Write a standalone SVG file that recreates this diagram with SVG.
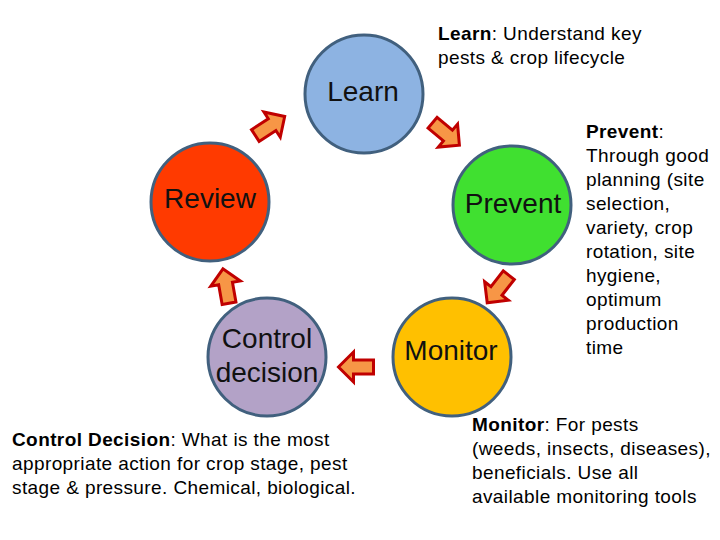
<svg xmlns="http://www.w3.org/2000/svg" width="720" height="540" viewBox="0 0 720 540">
<defs>
<style>
.c{stroke:#41607e;stroke-width:3}
.lbl{font-family:"Liberation Sans",Arial,sans-serif;font-size:28px;fill:#111;text-anchor:middle}
.txt{font-family:"Liberation Sans",Arial,sans-serif;font-size:19px;letter-spacing:0.4px;fill:#000}
.b{font-weight:bold}
.arr{fill:#f79646;stroke:#c00000;stroke-width:3;stroke-linejoin:miter}
</style>
<path id="ar" d="M -17.5,-7 L 2.5,-7 L 2.5,-15 L 17.5,0 L 2.5,15 L 2.5,7 L -17.5,7 Z"/>
</defs>
<rect width="720" height="540" fill="#fff"/>
<g id="learn">
<circle class="c" cx="364" cy="94" r="59" fill="#8db3e2"/>
<text class="lbl" x="363" y="101">Learn</text>
</g>
<g id="prevent">
<circle class="c" cx="512" cy="205" r="59" fill="#40e030"/>
<text class="lbl" x="513" y="213">Prevent</text>
</g>
<g id="monitor">
<circle class="c" cx="452" cy="357" r="59" fill="#ffc000"/>
<text class="lbl" x="451" y="360">Monitor</text>
</g>
<g id="control">
<circle class="c" cx="267" cy="357" r="59" fill="#b3a2c7"/>
<text class="lbl" x="267" y="348">Control</text>
<text class="lbl" x="267" y="382">decision</text>
</g>
<g id="review">
<circle class="c" cx="210" cy="202" r="59" fill="#ff3a00"/>
<text class="lbl" x="210" y="208">Review</text>
</g>
<g id="connectors">
<use href="#ar" class="arr" transform="translate(446,134) rotate(40)"/>
<use href="#ar" class="arr" transform="translate(498,289) rotate(128)"/>
<use href="#ar" class="arr" transform="translate(356,367) rotate(180)"/>
<use href="#ar" class="arr" transform="translate(226,286) rotate(-100)"/>
<use href="#ar" class="arr" transform="translate(270,126) rotate(-33)"/>
</g>
<g id="notes">
<text class="txt" x="438" y="40"><tspan class="b">Learn</tspan>: Understand key</text>
<text class="txt" x="438" y="64">pests &amp; crop lifecycle</text>
<text class="txt" x="586" y="138"><tspan class="b">Prevent</tspan>:</text>
<text class="txt" x="586" y="162">Through good</text>
<text class="txt" x="586" y="186">planning (site</text>
<text class="txt" x="586" y="210">selection,</text>
<text class="txt" x="586" y="234">variety, crop</text>
<text class="txt" x="586" y="258">rotation, site</text>
<text class="txt" x="586" y="282">hygiene,</text>
<text class="txt" x="586" y="306">optimum</text>
<text class="txt" x="586" y="330">production</text>
<text class="txt" x="586" y="354">time</text>
<text class="txt" x="472" y="431"><tspan class="b">Monitor</tspan>: For pests</text>
<text class="txt" x="472" y="455">(weeds, insects, diseases),</text>
<text class="txt" x="472" y="479">beneficials. Use all</text>
<text class="txt" x="472" y="503">available monitoring tools</text>
<text class="txt" x="12" y="446"><tspan class="b">Control Decision</tspan>: What is the most</text>
<text class="txt" x="12" y="470">appropriate action for crop stage, pest</text>
<text class="txt" x="12" y="494">stage &amp; pressure. Chemical, biological.</text>
</g>
</svg>
